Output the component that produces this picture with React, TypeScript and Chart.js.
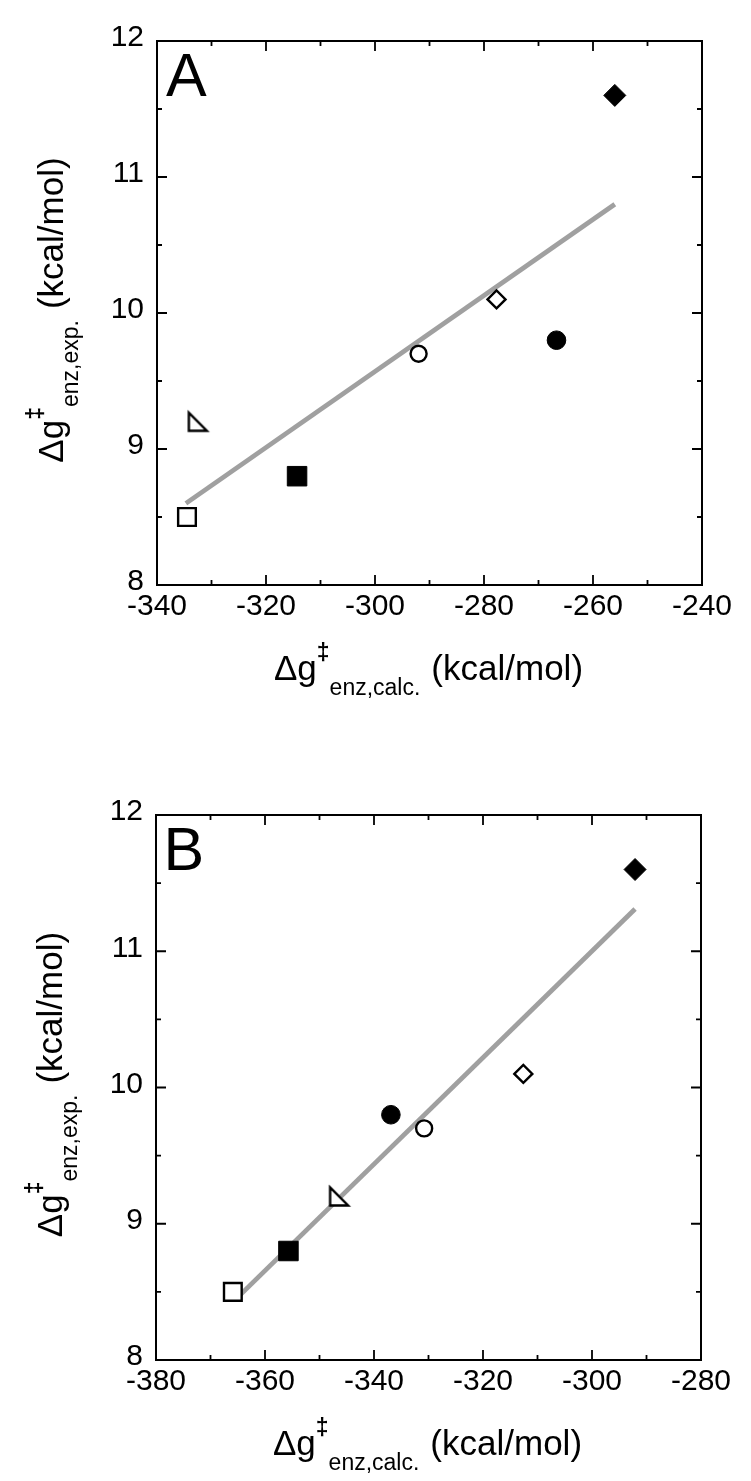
import React, { useEffect, useRef } from 'react';
import { Chart, registerables } from 'chart.js';

Chart.register(...registerables);

const FONT = "'Liberation Sans', Arial, Helvetica, sans-serif";

// Data
const markerKinds = ['openSquare', 'filledSquare', 'openTriangle', 'openCircle', 'openDiamond', 'filledCircle', 'filledDiamond'];
const expValues = [8.5, 8.8, 9.2, 9.7, 10.1, 9.8, 11.6];
const calcValuesA = [-334.5, -314.3, -332.5, -292.0, -277.7, -266.7, -256.0];
const calcValuesB = [-365.9, -355.7, -346.4, -330.8, -312.6, -336.9, -292.1];
const fitXA = [-334.7, -256.0];
const fitYA = [8.6, 10.8];
const fitXB = [-364.5, -292.1];
const fitYB = [8.48, 11.31];
const xRangeA = [-340, -240];
const xRangeB = [-380, -280];
const yRange = [8, 12];
const xMajorStep = 20;
const xMinorStep = 10;
const yMajorStep = 1;
const yMinorStep = 0.5;
const panelLabels = ['A', 'B'];
const xTitleSub = 'enz,calc.';
const yTitleSub = 'enz,exp.';
const titleUnit = '(kcal/mol)';
const titleMain = '\u0394g';
const titleSup = '\u2021';

function makeTriangle(): HTMLCanvasElement {
  const c = document.createElement('canvas');
  c.width = 27;
  c.height = 27;
  const ctx = c.getContext('2d')!;
  ctx.fillStyle = '#fff';
  ctx.strokeStyle = '#000';
  ctx.lineWidth = 2.4;
  ctx.lineJoin = 'miter';
  ctx.beginPath();
  ctx.moveTo(4.5, 4.5);
  ctx.lineTo(4.5, 22.5);
  ctx.lineTo(22.5, 22.5);
  ctx.closePath();
  ctx.fill();
  ctx.stroke();
  return c;
}

function styleFor(kind: string, tri: HTMLCanvasElement): any {
  switch (kind) {
    case 'openSquare':
      return { pointStyle: 'rect', pointRadius: 12.5, pointBackgroundColor: '#fff', pointBorderColor: '#000', pointBorderWidth: 2.4 };
    case 'filledSquare':
      return { pointStyle: 'rect', pointRadius: 13.8, pointBackgroundColor: '#000', pointBorderColor: '#000', pointBorderWidth: 1 };
    case 'openTriangle':
      return { pointStyle: tri, pointRadius: 10, pointBackgroundColor: '#fff', pointBorderColor: '#000', pointBorderWidth: 2 };
    case 'openCircle':
      return { pointStyle: 'circle', pointRadius: 8, pointBackgroundColor: '#fff', pointBorderColor: '#000', pointBorderWidth: 2.4 };
    case 'openDiamond':
      return { pointStyle: 'rectRot', pointRadius: 9, pointBackgroundColor: '#fff', pointBorderColor: '#000', pointBorderWidth: 2.4 };
    case 'filledCircle':
      return { pointStyle: 'circle', pointRadius: 9.3, pointBackgroundColor: '#000', pointBorderColor: '#000', pointBorderWidth: 1 };
    default:
      return { pointStyle: 'rectRot', pointRadius: 11, pointBackgroundColor: '#000', pointBorderColor: '#000', pointBorderWidth: 1 };
  }
}

function drawComposite(ctx: CanvasRenderingContext2D, sub: string) {
  // draws centered at (0,0) with main baseline at y=0
  const parts = [
    { text: titleMain, font: `35px ${FONT}`, dy: 0, gapAfter: 0 },
    { text: titleSup, font: `bold 23px ${FONT}`, dy: -20, gapAfter: 0 },
    { text: sub, font: `23px ${FONT}`, dy: 14.5, gapAfter: 11 },
    { text: titleUnit, font: `35px ${FONT}`, dy: 0, gapAfter: 0 },
  ];
  let total = 0;
  const widths: number[] = [];
  for (const p of parts) {
    ctx.font = p.font;
    const w = ctx.measureText(p.text).width;
    widths.push(w);
    total += w + p.gapAfter;
  }
  let x = -total / 2;
  ctx.textAlign = 'left';
  ctx.textBaseline = 'alphabetic';
  ctx.fillStyle = '#000';
  parts.forEach((p, i) => {
    ctx.font = p.font;
    ctx.fillText(p.text, x, p.dy);
    x += widths[i] + p.gapAfter;
  });
}

const decorPlugin = {
  id: 'decor',
  afterDraw(chart: any, _args: any, opts: any) {
    const { ctx, chartArea: a, scales } = chart;
    const xs = scales.x;
    const ys = scales.y;
    ctx.save();
    ctx.strokeStyle = '#000';
    ctx.lineWidth = 2;
    ctx.strokeRect(a.left, a.top, a.right - a.left, a.bottom - a.top);

    ctx.lineWidth = 1.8;
    ctx.beginPath();
    const nx = Math.round((xs.max - xs.min) / xMinorStep);
    const ratioX = Math.round(xMajorStep / xMinorStep);
    for (let i = 0; i <= nx; i++) {
      const v = xs.min + i * xMinorStep;
      const px = xs.getPixelForValue(v);
      const len = i % ratioX === 0 ? 10 : 5;
      ctx.moveTo(px, a.bottom);
      ctx.lineTo(px, a.bottom - len);
      ctx.moveTo(px, a.top);
      ctx.lineTo(px, a.top + len);
    }
    const ny = Math.round((ys.max - ys.min) / yMinorStep);
    const ratioY = Math.round(yMajorStep / yMinorStep);
    for (let i = 0; i <= ny; i++) {
      const v = ys.min + i * yMinorStep;
      const py = ys.getPixelForValue(v);
      const len = i % ratioY === 0 ? 10 : 5;
      ctx.moveTo(a.left, py);
      ctx.lineTo(a.left + len, py);
      ctx.moveTo(a.right, py);
      ctx.lineTo(a.right - len, py);
    }
    ctx.stroke();

    // panel letter
    ctx.fillStyle = '#000';
    ctx.font = `61px ${FONT}`;
    ctx.textAlign = 'left';
    ctx.textBaseline = 'alphabetic';
    ctx.fillText(opts.letter, a.left + opts.letterDx, a.top + 55);

    // x title
    ctx.save();
    ctx.translate((a.left + a.right) / 2 - 1, a.bottom + 95);
    drawComposite(ctx, xTitleSub);
    ctx.restore();

    // y title
    ctx.save();
    ctx.translate(a.left - 94, (a.top + a.bottom) / 2 - 3);
    ctx.rotate(-Math.PI / 2);
    drawComposite(ctx, yTitleSub);
    ctx.restore();

    ctx.restore();
  },
};

type Panel = {
  letter: string;
  letterDx: number;
  calc: number[];
  fitX: number[];
  fitY: number[];
  xRange: number[];
  padTop: number;
  padRight: number;
  yAxisW: number;
  xAxisH: number;
};

function makeConfig(p: Panel, tri: HTMLCanvasElement): any {
  const datasets: any[] = markerKinds.map((kind, i) => ({
    label: kind,
    data: [{ x: p.calc[i], y: expValues[i] }],
    showLine: false,
    ...styleFor(kind, tri),
  }));
  datasets.push({
    label: 'fit',
    data: p.fitX.map((x, i) => ({ x, y: p.fitY[i] })),
    showLine: true,
    borderColor: '#a0a0a0',
    borderWidth: 4.8,
    borderCapStyle: 'butt',
    pointRadius: 0,
    fill: false,
    tension: 0,
  });
  const tickFont = { family: FONT, size: 30 };
  return {
    type: 'scatter',
    data: { datasets },
    plugins: [decorPlugin],
    options: {
      responsive: false,
      animation: false,
      events: [],
      layout: { padding: { top: p.padTop, right: p.padRight, left: 0, bottom: 0 } },
      plugins: {
        legend: { display: false },
        tooltip: { enabled: false },
        decor: { letter: p.letter, letterDx: p.letterDx },
      },
      scales: {
        x: {
          type: 'linear',
          min: p.xRange[0],
          max: p.xRange[1],
          afterFit: (s: any) => {
            s.height = p.xAxisH;
          },
          grid: { display: false, drawTicks: false },
          border: { display: false },
          ticks: {
            stepSize: xMajorStep,
            autoSkip: false,
            maxRotation: 0,
            minRotation: 0,
            padding: 4,
            color: '#000',
            font: tickFont,
            callback: (v: any) => String(v),
          },
        },
        y: {
          type: 'linear',
          min: yRange[0],
          max: yRange[1],
          afterFit: (s: any) => {
            s.width = p.yAxisW;
          },
          grid: { display: false, drawTicks: false },
          border: { display: false },
          ticks: {
            stepSize: yMajorStep,
            autoSkip: false,
            padding: 13,
            labelOffset: -3,
            color: '#000',
            font: tickFont,
            callback: (v: any) => String(v),
          },
        },
      },
    },
  };
}

const panelA: Panel = {
  letter: panelLabels[0],
  letterDx: 9,
  calc: calcValuesA,
  fitX: fitXA,
  fitY: fitYA,
  xRange: xRangeA,
  padTop: 41,
  padRight: 49,
  yAxisW: 157,
  xAxisH: 155,
};

const panelB: Panel = {
  letter: panelLabels[1],
  letterDx: 7.5,
  calc: calcValuesB,
  fitX: fitXB,
  fitY: fitYB,
  xRange: xRangeB,
  padTop: 75,
  padRight: 50,
  yAxisW: 156,
  xAxisH: 121,
};

function ChartPanel({ panel, top, height }: { panel: Panel; top: number; height: number }) {
  const ref = useRef<HTMLCanvasElement | null>(null);
  useEffect(() => {
    if (!ref.current) return;
    const tri = makeTriangle();
    const chart = new Chart(ref.current, makeConfig(panel, tri));
    return () => chart.destroy();
  }, [panel]);
  return (
    <canvas
      ref={ref}
      width={751}
      height={height}
      style={{ position: 'absolute', left: 0, top, width: 751, height, display: 'block' }}
    />
  );
}

export default function App() {
  return (
    <div style={{ position: 'absolute', left: 0, top: 0, width: 751, height: 1481, background: '#fff', overflow: 'hidden' }}>
      <ChartPanel panel={panelA} top={0} height={740} />
      <ChartPanel panel={panelB} top={740} height={741} />
    </div>
  );
}
